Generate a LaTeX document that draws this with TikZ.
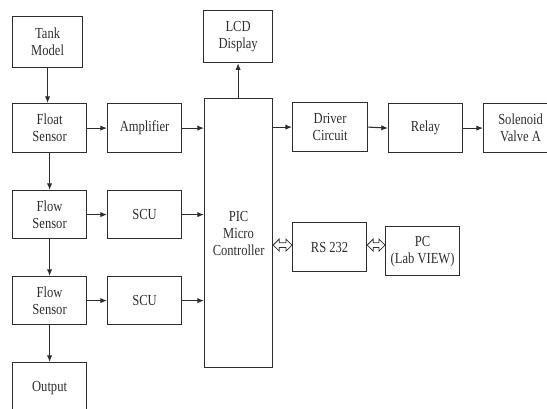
\documentclass[tikz,border=0pt]{standalone}
\usepackage{fontspec}
\setmainfont[FakeStretch=0.82]{Liberation Serif}
\usetikzlibrary{arrows.meta,calc}
\definecolor{ink}{HTML}{2E2E2E}
\newcommand{\blk}[6]{\node[blk,minimum width=#4*0.75pt,minimum height=#5*0.75pt] (#1) at (#2,#3) {#6};}
\newcommand{\dbl}[2]{\draw[link] (#1) -- ($(#1)+(6,-6)$) -- ($(#1)+(6,-2.3)$) -- ($(#2)+(-6,-2.3)$) -- ($(#2)+(-6,-6)$) -- (#2) -- ($(#2)+(-6,6)$) -- ($(#2)+(-6,2.3)$) -- ($(#1)+(6,2.3)$) -- ($(#1)+(6,6)$) -- cycle;}
\tikzset{
  blk/.style={anchor=north west,draw=ink,line width=0.9pt,inner sep=0pt,align=center,font=\fontsize{11.5}{12.75}\selectfont,text=ink},
  wire/.style={draw=ink,line width=0.8pt,-{Latex[length=5pt,width=4pt]}},
  link/.style={draw=ink,line width=0.6pt,line join=miter}
}

\begin{document}
\begin{tikzpicture}[x=0.75pt,y=-0.75pt]
\useasboundingbox (0,0) rectangle (547,408);
\clip (0,0) rectangle (547,408);
\blk{tank}{12}{16}{70}{51}{Tank\\Model}
\blk{float}{12}{103}{74}{49}{Float\\Sensor}
\blk{flowa}{12}{190}{74}{48}{Flow\\Sensor}
\blk{flowb}{12}{276}{74}{48}{Flow\\Sensor}
\blk{out}{12}{362}{74}{50}{Output}
\blk{amp}{107}{103}{74}{49}{Amplifier}
\blk{scua}{107}{190}{74}{48}{SCU}
\blk{scub}{107}{276}{74}{48}{SCU}
\blk{lcd}{203}{10}{69}{52}{LCD\\Display}
\blk{pic}{204}{98}{68}{269}{PIC\\Micro\\Controller}
\blk{drv}{292}{102}{75}{49}{Driver\\Circuit}
\blk{relay}{388}{103}{74}{49}{Relay}
\blk{valve}{483}{103}{74}{49}{Solenoid\\Valve A}
\blk{rs}{292}{222}{74}{49}{RS 232}
\blk{pc}{385}{226}{74}{49}{PC\\(Lab VIEW)}
% left column
\draw[wire] (tank.south) -- (tank.south |- float.north);
\draw[wire] (float.south) -- (flowa.north);
\draw[wire] (flowa.south) -- (flowb.north);
\draw[wire] (flowb.south) -- (out.north);
% into the controller
\draw[wire] (float.east) -- (amp.west);
\draw[wire] (amp.east) -- (amp.east -| pic.west);
\draw[wire] (flowa.east) -- (scua.west);
\draw[wire] (scua.east) -- (scua.east -| pic.west);
\draw[wire] (flowb.east) -- (scub.west);
\draw[wire] (scub.east) -- (scub.east -| pic.west);
% out of the controller
\draw[wire] (lcd.south |- pic.north) -- (lcd.south);
\draw[wire] (drv.west -| pic.east) -- (drv.west);
\draw[wire] (drv.east) -- (relay.west);
\draw[wire] (relay.east) -- (valve.west);
% serial link
\coordinate (pr) at ([yshift=1.5pt]rs.west -| pic.east);
\coordinate (rl) at ([yshift=1.5pt]rs.west);
\coordinate (rr) at ([yshift=1.5pt]rs.east);
\coordinate (pl) at (rr -| pc.west);
\dbl{pr}{rl}
\dbl{rr}{pl}
\end{tikzpicture}
\end{document}
